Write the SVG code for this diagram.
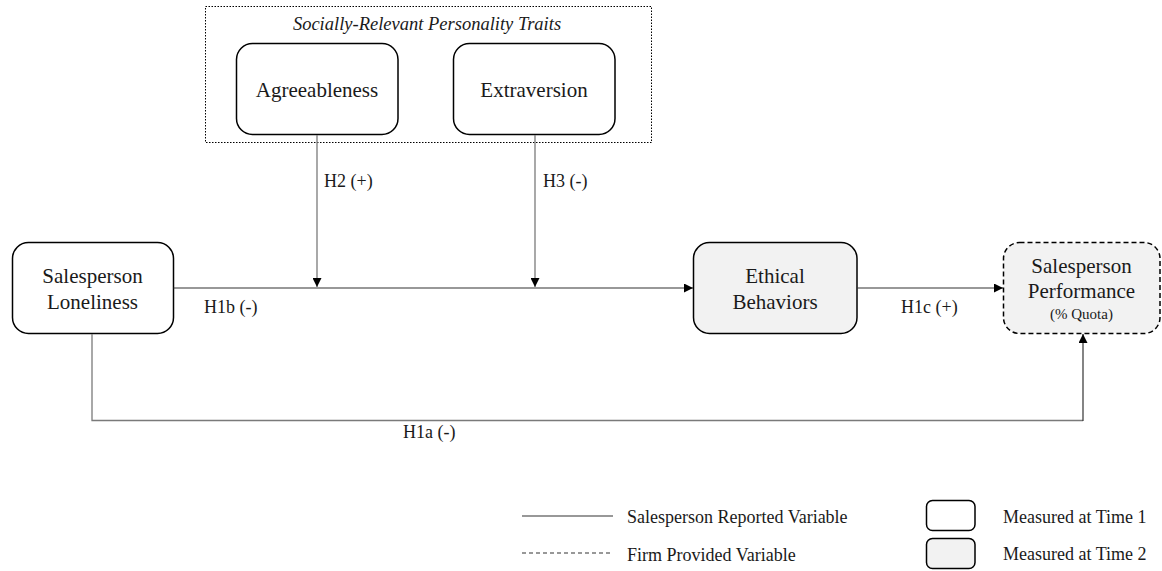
<svg xmlns="http://www.w3.org/2000/svg" width="1162" height="571" viewBox="0 0 1162 571">
<style>
  text { font-family: "Liberation Serif", "Times New Roman", serif; fill: #1a1a1a; }
  .node { font-size: 21px; text-anchor: middle; }
  .lbl { font-size: 18px; }
  .leg { font-size: 18px; }
  .box { fill: #ffffff; stroke: #000; stroke-width: 1.5; }
  .box2 { fill: #f2f2f2; stroke: #000; stroke-width: 1.5; }
  .conn { fill: none; stroke: #333; stroke-width: 1.2; }
  .gray { fill: none; stroke: #7a7a7a; stroke-width: 1.3; }
</style>
<defs>
  <marker id="arr" viewBox="0 0 10 10" refX="10" refY="5" markerWidth="10" markerHeight="9" markerUnits="userSpaceOnUse" orient="auto">
    <path d="M0,0 L10,5 L0,10 Z" fill="#000"/>
  </marker>
</defs>
<rect width="1162" height="571" fill="#ffffff"/>

<g id="traits-group">
  <rect x="205.5" y="6.5" width="446" height="136" fill="none" stroke="#000" stroke-width="1" stroke-dasharray="1.5,1.5"/>
  <text x="427" y="30" font-size="18.5" font-style="italic" text-anchor="middle">Socially-Relevant Personality Traits</text>
</g>

<g id="agreeableness">
  <rect class="box" x="236.5" y="43.5" width="161.5" height="91" rx="16"/>
  <text class="node" x="317" y="97">Agreeableness</text>
</g>

<g id="extraversion">
  <rect class="box" x="453.5" y="43.5" width="161.5" height="91" rx="16"/>
  <text class="node" x="534" y="97">Extraversion</text>
</g>

<g id="loneliness">
  <rect class="box" x="12.5" y="242.5" width="161" height="91" rx="16"/>
  <text class="node" x="92.5" y="283">Salesperson</text>
  <text class="node" x="92.5" y="309">Loneliness</text>
</g>

<g id="ethical">
  <rect class="box2" x="693.5" y="242.5" width="163.5" height="91" rx="16"/>
  <text class="node" x="775" y="283">Ethical</text>
  <text class="node" x="775" y="309">Behaviors</text>
</g>

<g id="performance">
  <rect x="1003.5" y="242.5" width="156.5" height="91" rx="16" fill="#f2f2f2" stroke="#000" stroke-width="1.5" stroke-dasharray="5,3"/>
  <text class="node" x="1081.5" y="273">Salesperson</text>
  <text class="node" x="1081.5" y="298">Performance</text>
  <text x="1081.5" y="319" font-size="15" text-anchor="middle">(% Quota)</text>
</g>

<g id="connectors">
  <line class="conn" x1="173.5" y1="288" x2="693" y2="288" marker-end="url(#arr)"/>
  <line class="conn" x1="857" y1="288" x2="1003" y2="288" marker-end="url(#arr)"/>
  <line class="gray" x1="317" y1="135" x2="317" y2="287" marker-end="url(#arr)"/>
  <line class="gray" x1="535" y1="135" x2="535" y2="287" marker-end="url(#arr)"/>
  <polyline class="gray" points="92,334 92,420.5 1083,420.5"/>
  <line class="conn" x1="1083" y1="421" x2="1083" y2="334" marker-end="url(#arr)"/>
</g>

<g id="labels">
  <text class="lbl" x="324" y="187">H2 (+)</text>
  <text class="lbl" x="543" y="187">H3 (-)</text>
  <text class="lbl" x="204" y="313">H1b (-)</text>
  <text class="lbl" x="901" y="313">H1c (+)</text>
  <text class="lbl" x="403" y="438">H1a (-)</text>
</g>

<g id="legend">
  <line x1="522" y1="516" x2="613" y2="516" stroke="#333" stroke-width="1.2"/>
  <text class="leg" x="627" y="523">Salesperson Reported Variable</text>
  <line x1="522" y1="553" x2="613" y2="553" stroke="#333" stroke-width="1.2" stroke-dasharray="4,3"/>
  <text class="leg" x="627" y="561">Firm Provided Variable</text>
  <rect class="box" x="926.5" y="500.5" width="48.5" height="30" rx="6"/>
  <text class="leg" x="1003" y="523">Measured at Time 1</text>
  <rect class="box2" x="926.5" y="538.5" width="48.5" height="30" rx="6"/>
  <text class="leg" x="1003" y="560">Measured at Time 2</text>
</g>
</svg>
